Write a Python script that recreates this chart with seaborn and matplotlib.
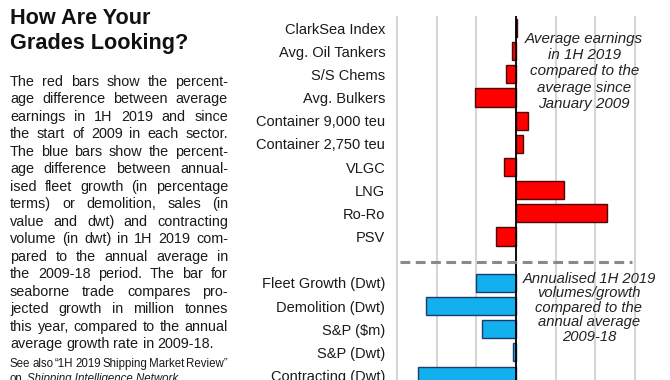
import numpy as np
import pandas as pd
import matplotlib
matplotlib.use("Agg")
import matplotlib.pyplot as plt
import seaborn as sns

# ---- data ----
earn_cats = ["ClarkSea Index", "Avg. Oil Tankers", "S/S Chems", "Avg. Bulkers",
             "Container 9,000 teu", "Container 2,750 teu", "VLGC", "LNG", "Ro-Ro", "PSV"]
earn_vals = [0.4, -2.8, -6.3, -26.0, 7.5, 4.7, -7.5, 30.0, 57.5, -12.5]

vol_cats = ["Fleet Growth (Dwt)", "Demolition (Dwt)", "S&P ($m)", "S&P (Dwt)", "Contracting (Dwt)"]
vol_vals = [-25.5, -56.5, -21.5, -2.0, -61.5]

grid_ticks = [-75, -50, -25, 0, 25, 50, 75]

title_lines = ["How Are Your", "Grades Looking?"]
body_lines = [
    "The red bars show the percent-",
    "age difference between average",
    "earnings in 1H 2019 and since",
    "the start of 2009 in each sector.",
    "The blue bars show the percent-",
    "age difference between annual-",
    "ised fleet growth (in percentage",
    "terms) or demolition, sales (in",
    "value and dwt) and contracting",
    "volume (in dwt) in 1H 2019 com-",
    "pared to the annual average in",
    "the 2009-18 period. The bar for",
    "seaborne trade compares pro-",
    "jected growth in million tonnes",
    "this year, compared to the annual",
    "average growth rate in 2009-18.",
]
note1 = "Average earnings\nin 1H 2019\ncompared to the\naverage since\nJanuary 2009"
note2 = "Annualised 1H 2019\nvolumes/growth\ncompared to the\nannual average\n2009-18"

# ---- style ----
sns.set_style("white")
plt.rcParams["font.family"] = ["Liberation Sans", "DejaVu Sans"]

RED = "#FF0000"
RED_EDGE = "#4a0a0a"
BLUE = "#12B0EE"
BLUE_EDGE = "#1F3A68"

W, H = 670, 380
fig = plt.figure(figsize=(W / 100, H / 100), dpi=100)

ax_left, ax_right = 395, 637
ax_top, ax_bot = 16, 380
ax = fig.add_axes([ax_left / W, 1 - ax_bot / H, (ax_right - ax_left) / W, (ax_bot - ax_top) / H])

order = earn_cats + [" "] + vol_cats
df_e = pd.DataFrame({"category": earn_cats, "value": earn_vals})
df_v = pd.DataFrame({"category": vol_cats, "value": vol_vals})

sns.barplot(data=df_e, x="value", y="category", order=order, orient="h",
            color=RED, saturation=1, edgecolor=RED_EDGE, linewidth=1.0,
            width=0.78, errorbar=None, ax=ax, zorder=2)
sns.barplot(data=df_v, x="value", y="category", order=order, orient="h",
            color=BLUE, saturation=1, edgecolor=BLUE_EDGE, linewidth=1.0,
            width=0.78, errorbar=None, ax=ax, zorder=2)

xl = 75 + 2 * 25 / 39.67
ax.set_xlim(-xl, xl)
row = 23.17
ax.set_ylim((ax_bot - 28) / row, -(28 - ax_top) / row)

ax.set_xticks(grid_ticks)
ax.grid(axis="x", color="#D6D6D6", linewidth=1.5, zorder=0)
ax.grid(axis="y", visible=False)
ax.set_axisbelow(True)
ax.tick_params(axis="x", length=0, labelbottom=False)
ax.tick_params(axis="y", length=0, pad=7, labelsize=10.5, labelcolor="#1a1a1a")
for s in ax.spines.values():
    s.set_visible(False)
ax.set_xlabel("")
ax.set_ylabel("")

ax.axvline(0, color="black", linewidth=1.3, zorder=3)
sep = order.index(" ")
ax.plot([-73, 73], [sep + 0.1, sep + 0.1], color="#8a8a8a", linewidth=2.2,
        linestyle=(0, (3.2, 1.8)), zorder=3)

ax.text(43, 0.17, note1, ha="center", va="top", fontsize=10.9, style="italic",
        color="#222222", linespacing=1.2, zorder=4)
ax.text(46, 10.52, note2, ha="center", va="top", fontsize=10.6, style="italic",
        color="#222222", linespacing=1.05, zorder=4)

# ---- left text panel ----
for i, t in enumerate(title_lines):
    fig.text(10 / W, 1 - (18.5 + 25 * i) / H, t, fontsize=15.6, fontweight="bold",
             ha="left", va="center", color="#111111")

renderer = fig.canvas.get_renderer()


def text_width(s, size, **kw):
    t = fig.text(0, 0, s, fontsize=size, **kw)
    w = t.get_window_extent(renderer).width
    t.remove()
    return w


def justified(line, y_px, x0, x1, size, justify=True, **kw):
    words = line.split(" ")
    texts = [fig.text(0, 1 - y_px / H, w, fontsize=size, ha="left", va="center",
                      color="#1a1a1a", **kw) for w in words]
    widths = [t.get_window_extent(renderer).width for t in texts]
    if justify and len(words) > 1:
        gap = (x1 - x0 - sum(widths)) / (len(words) - 1)
    else:
        gap = text_width("a a", size) - text_width("aa", size)
    x = x0
    for t, w in zip(texts, widths):
        t.set_x(x / W)
        x += w + gap


for i, line in enumerate(body_lines):
    justified(line, 82 + 17.47 * i, 10, 228, 10.4, justify=(i < len(body_lines) - 1))

justified("See also \u201c1H 2019 Shipping Market Review\u201d", 364, 10, 228, 8.3)
on_w = text_width("on", 8.3)
sp_w = text_width("a a", 8.3) - text_width("aa", 8.3)
fig.text(10 / W, 1 - 379 / H, "on", fontsize=8.3, ha="left", va="center", color="#1a1a1a")
fig.text((10 + on_w + sp_w + 1) / W, 1 - 379 / H, "Shipping Intelligence Network", fontsize=8.3,
         style="italic", ha="left", va="center", color="#1a1a1a")

fig.savefig("out.png", dpi=100)
